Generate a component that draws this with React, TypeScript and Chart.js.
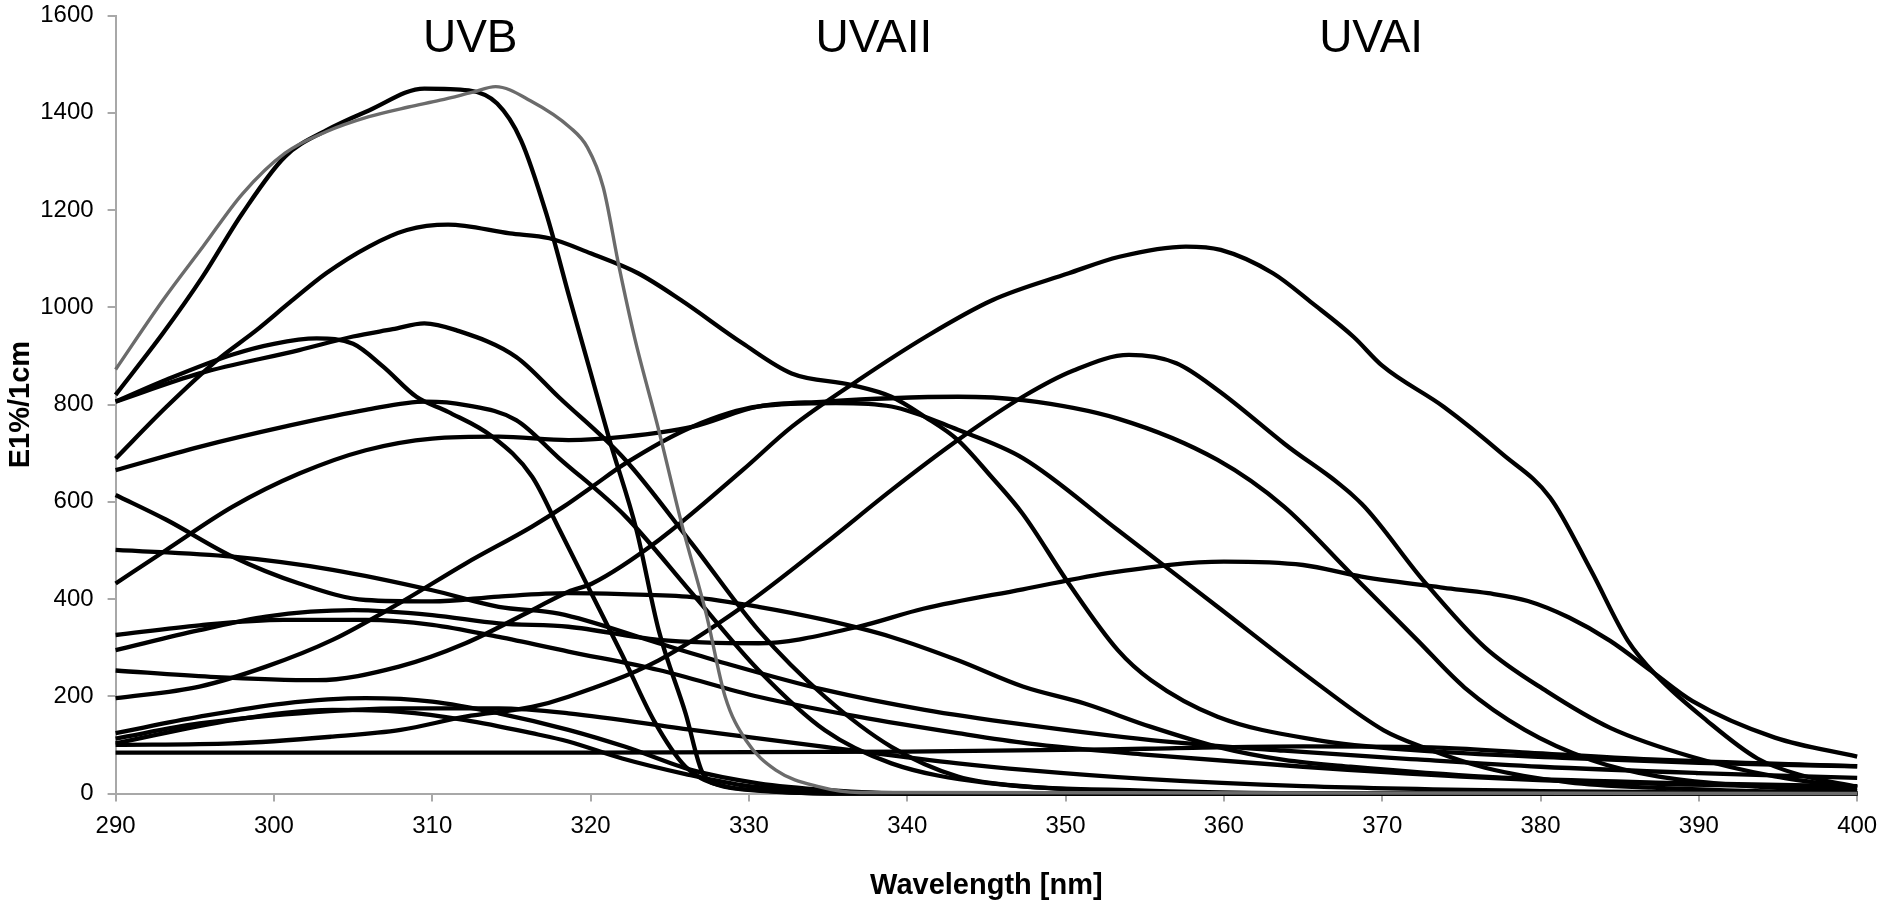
import React, { useEffect, useRef } from 'react';
import { Chart, registerables } from 'chart.js';

Chart.register(...registerables);

// Axis ticks
const xTickValues = [290, 300, 310, 320, 330, 340, 350, 360, 370, 380, 390, 400];
const yTickValues = [0, 200, 400, 600, 800, 1000, 1200, 1400, 1600];

// Region labels
const regionNames = ['UVB', 'UVAII', 'UVAI'];
const regionCenters = [312.4, 337.9, 369.3];
const regionLabelValue = 1526;

// Gray curve
const wlG = [290, 293, 295.5, 298, 300.7, 303.3, 306, 308.5, 310.5, 312.5, 314, 316.2, 318.7, 319.8, 320.8, 321.8, 322.8, 324.3, 325.8, 327.3, 328.5, 329.8, 331.7, 334.4, 337, 400];
const valG = [872, 1015, 1124, 1233, 1317, 1361, 1392, 1412, 1426, 1442, 1454, 1425, 1370, 1329, 1247, 1083, 935, 748, 549, 370, 199, 110, 48, 14, 2, 0];

// Black curves
const wlA = [290, 293, 295.5, 298, 300.7, 303.3, 306, 309.5, 312.3, 314.1, 315.6, 317.2, 318.7, 320, 321.2, 322.9, 324.3, 326, 327.1, 328.5, 330.6, 335, 400];
const valA = [820, 947, 1063, 1193, 1310, 1364, 1405, 1450, 1446, 1419, 1344, 1193, 1016, 866, 727, 542, 336, 165, 41, 15, 7, 0, 0];

const wlB = [290, 293.2, 297.4, 300, 302.7, 305, 306.9, 309, 311, 313.8, 316.3, 318, 320, 322, 324, 326, 328, 331, 336, 400];
const valB = [806, 851, 903, 925, 936, 925, 878, 816, 785, 734, 652, 545, 415, 285, 150, 55, 18, 5, 0, 0];

const wlC = [290, 295.3, 301.6, 305, 307.5, 309.5, 311.5, 315.3, 318, 322.2, 326.4, 330.6, 334.8, 339, 343.2, 347.6, 355, 365, 400];
const valC = [806, 864, 912, 940, 955, 967, 953, 898, 815, 686, 514, 336, 199, 96, 35, 14, 4, 0, 0];

const wlD = [290, 293.2, 296.4, 298.9, 301, 303.3, 306, 308.4, 311, 314.9, 317.4, 320, 323, 325.7, 329.6, 332.7, 336.5, 339, 341.1, 343.2, 345.3, 347.3, 350.2, 353.3, 355.4, 359.6, 365.9, 372, 381.8, 390, 400];
const valD = [689, 795, 891, 953, 1010, 1070, 1125, 1159, 1170, 1152, 1142, 1111, 1070, 1015, 926, 864, 840, 816, 775, 727, 652, 575, 432, 295, 233, 158, 110, 89, 73, 63, 56];

const wlE = [290, 295.3, 300.6, 305.8, 309.6, 312.1, 315.3, 318, 322.2, 326.4, 330.6, 334.8, 339, 345, 355, 370, 400];
const valE = [665, 713, 754, 789, 806, 799, 768, 690, 570, 412, 254, 130, 62, 22, 6, 0, 0];

const wlF = [290, 293.2, 297.4, 301.6, 305.8, 310, 314.2, 318.6, 322, 326.4, 330.6, 334.8, 339, 343.2, 347.3, 351.2, 355.4, 359.6, 363.8, 368, 376.7, 388, 400];
const valF = [614, 563, 487, 432, 398, 395, 405, 412, 410, 404, 384, 357, 322, 274, 220, 185, 137, 96, 69, 55, 34, 22, 15];

const wlH = [290, 297.4, 303.7, 310, 314.2, 318, 324.3, 328.5, 334.8, 341.1, 347.3, 355.4, 363.8, 372.2, 380, 390, 400];
const valH = [501, 487, 460, 418, 384, 370, 309, 268, 213, 172, 142, 110, 88, 70, 55, 42, 32];

const wlI = [290, 293.2, 297.4, 301.6, 305.8, 310, 314.2, 318.6, 322.2, 326.4, 330.6, 334.8, 339, 343.2, 347.3, 353.3, 359.6, 363.8, 368, 372.2, 375.2, 379, 383.2, 387.4, 393.7, 400];
const valI = [432, 501, 590, 658, 706, 730, 734, 727, 734, 754, 796, 806, 813, 816, 809, 771, 686, 590, 453, 316, 218, 131, 69, 35, 14, 5];

const wlJ = [290, 295.3, 300.6, 305.8, 310, 314.2, 318.6, 324.3, 330.6, 336.9, 343.2, 347.6, 355, 365, 375, 385, 400];
const valJ = [326, 346, 357, 357, 347, 322, 292, 254, 199, 158, 124, 103, 80, 55, 35, 22, 12];

const wlK = [290, 295.3, 299.5, 305, 310, 314.2, 318.6, 324.3, 330.6, 336.9, 341, 347.3, 353, 360, 365, 368.7, 373.9, 376.7, 379.2, 381.8, 384.4, 387, 389.6, 394.8, 400];
const valK = [295, 336, 364, 377, 367, 350, 343, 316, 309, 343, 380, 420, 455, 477, 470, 446, 423, 412, 396, 362, 314, 252, 190, 115, 76];

const wlL = [290, 295.3, 299.5, 303.7, 307.9, 312.1, 316.3, 318.3, 320.1, 322.2, 326.4, 330.6, 335.5, 339, 343.2, 347.3, 353.3, 359.6, 365.9, 370.1, 372.6, 376.5, 381.8, 387, 400];
const valL = [196, 220, 261, 316, 391, 473, 549, 590, 631, 679, 754, 796, 803, 796, 748, 690, 542, 384, 226, 130, 95, 53, 23, 12, 0];

const wlM = [290, 296, 302.7, 307.9, 312.1, 316.3, 318.6, 320.1, 324.3, 329.6, 332.7, 336.9, 341.2, 345.4, 350.2, 353.4, 357.6, 359.8, 363.1, 365.6, 368.2, 370, 373.9, 377.6, 380.6, 383.2, 385.5, 387.4, 390.5, 393.7, 396.3, 400];
const valM = [253, 240, 233, 261, 309, 377, 415, 432, 521, 665, 754, 850, 940, 1015, 1070, 1104, 1125, 1118, 1070, 1008, 939, 880, 795, 698, 609, 458, 315, 240, 150, 72, 39, 14];

const wlN = [290, 295.3, 300.6, 305.8, 310, 314.2, 318.6, 322.2, 326.4, 330.6, 335, 340, 400];
const valN = [124, 158, 185, 196, 189, 165, 131, 96, 48, 21, 7, 0, 0];

const wlO = [290, 295.3, 301.6, 308, 314.2, 318.6, 326.4, 334.8, 343.2, 347.6, 355, 365, 380, 400];
const valO = [113, 144, 165, 175, 175, 165, 131, 96, 62, 48, 30, 15, 5, 0];

const wlR = [290, 297.4, 303.7, 308, 312.1, 316.3, 318.6, 322, 326, 330, 335, 345, 400];
const valR = [103, 151, 172, 168, 151, 124, 107, 72, 40, 15, 4, 0, 0];

const wlP = [290, 297.4, 303.7, 308, 312.1, 316.3, 318.6, 324.3, 329.6, 334.8, 339, 343.2, 347.3, 350.5, 354, 357, 359.6, 363.8, 368.7, 372.6, 376.5, 380.4, 384.4, 389.6, 394.8, 400];
const valP = [100, 103, 117, 131, 158, 178, 199, 274, 384, 514, 624, 727, 816, 870, 902, 885, 830, 720, 596, 438, 300, 210, 135, 75, 35, 12];

const wlQ = [290, 320, 340, 355, 365, 373.9, 379.2, 387, 400];
const valQ = [84, 84, 86, 92, 97, 94, 84, 70, 56];

const GRAY = '#6b6b6b';
const BLACK = '#000000';

const seriesList = [
  { wl: wlG, val: valG, color: GRAY, width: 3.4 },
  { wl: wlA, val: valA, color: BLACK, width: 4.3 },
  { wl: wlB, val: valB, color: BLACK, width: 4.3 },
  { wl: wlC, val: valC, color: BLACK, width: 4.3 },
  { wl: wlD, val: valD, color: BLACK, width: 4.3 },
  { wl: wlE, val: valE, color: BLACK, width: 4.3 },
  { wl: wlF, val: valF, color: BLACK, width: 4.3 },
  { wl: wlH, val: valH, color: BLACK, width: 4.3 },
  { wl: wlI, val: valI, color: BLACK, width: 4.3 },
  { wl: wlJ, val: valJ, color: BLACK, width: 4.3 },
  { wl: wlK, val: valK, color: BLACK, width: 4.3 },
  { wl: wlL, val: valL, color: BLACK, width: 4.3 },
  { wl: wlM, val: valM, color: BLACK, width: 4.3 },
  { wl: wlN, val: valN, color: BLACK, width: 4.3 },
  { wl: wlO, val: valO, color: BLACK, width: 4.3 },
  { wl: wlR, val: valR, color: BLACK, width: 4.3 },
  { wl: wlP, val: valP, color: BLACK, width: 4.3 },
  { wl: wlQ, val: valQ, color: BLACK, width: 4.3 },
];

const FONT = '"Liberation Sans", Arial, Helvetica, sans-serif';
const AXIS_GRAY = '#a8a8a8';

const regionLabelPlugin = {
  id: 'regionLabels',
  afterDatasetsDraw(chart: any) {
    const { ctx, scales } = chart;
    const xs = scales.x;
    const ys = scales.y;
    ctx.save();
    ctx.font = `46px ${FONT}`;
    ctx.fillStyle = '#000';
    ctx.textAlign = 'center';
    ctx.textBaseline = 'alphabetic';
    regionNames.forEach((name, i) => {
      ctx.fillText(name, xs.getPixelForValue(regionCenters[i]), ys.getPixelForValue(regionLabelValue));
    });
    ctx.restore();
  },
};

export default function App() {
  const ref = useRef<HTMLCanvasElement>(null);

  useEffect(() => {
    if (!ref.current) return;
    Chart.defaults.font.family = FONT;
    const chart = new Chart(ref.current, {
      type: 'line',
      data: {
        datasets: seriesList.map((s) => ({
          data: s.wl.map((w, i) => ({ x: w, y: s.val[i] })),
          borderColor: s.color,
          borderWidth: s.width,
          pointRadius: 0,
          pointHoverRadius: 0,
          fill: false,
          cubicInterpolationMode: 'monotone' as const,
          clip: false as any,
        })),
      },
      options: {
        animation: false,
        responsive: false,
        devicePixelRatio: 1,
        layout: { padding: { top: 15.6, right: 28, left: 0, bottom: 0 } },
        plugins: {
          legend: { display: false },
          tooltip: { enabled: false },
        },
        events: [],
        scales: {
          x: {
            type: 'linear',
            min: 290,
            max: 400,
            afterBuildTicks: (scale: any) => {
              scale.ticks = xTickValues.map((v) => ({ value: v }));
            },
            afterFit: (scale: any) => {
              scale.height = 114.5;
            },
            grid: {
              display: true,
              drawOnChartArea: false,
              drawTicks: true,
              tickLength: 8,
              color: AXIS_GRAY,
              lineWidth: 2,
            },
            border: { display: true, color: AXIS_GRAY, width: 2 },
            ticks: {
              color: '#000',
              font: { size: 24, family: FONT },
              padding: 10.8,
              maxRotation: 0,
              autoSkip: false,
              callback: (v: any) => String(v),
            },
            title: {
              display: true,
              text: 'Wavelength [nm]',
              color: '#000',
              font: { size: 29, weight: 'bold', family: FONT },
              padding: { top: 0, bottom: 5 },
            },
          },
          y: {
            type: 'linear',
            min: 0,
            max: 1600,
            afterBuildTicks: (scale: any) => {
              scale.ticks = yTickValues.map((v) => ({ value: v }));
            },
            afterFit: (scale: any) => {
              scale.width = 115.6;
              scale.paddingTop = 0;
              scale.paddingBottom = 0;
            },
            grid: {
              display: true,
              drawOnChartArea: false,
              drawTicks: true,
              tickLength: 8,
              color: AXIS_GRAY,
              lineWidth: 2,
            },
            border: { display: true, color: AXIS_GRAY, width: 2 },
            ticks: {
              color: '#000',
              font: { size: 24, family: FONT },
              padding: 14,
              autoSkip: false,
              callback: (v: any) => String(v),
            },
            title: {
              display: true,
              text: 'E1%/1cm',
              color: '#000',
              font: { size: 29, weight: 'bold', family: FONT },
              padding: { top: 4, bottom: 0 },
            },
          },
        },
      },
      plugins: [regionLabelPlugin],
    });
    return () => chart.destroy();
  }, []);

  return (
    <div style={{ position: 'fixed', left: 0, top: 0, width: 1888, height: 908, background: '#fff' }}>
      <canvas ref={ref} width={1888} height={908} style={{ display: 'block', width: 1888, height: 908 }} />
    </div>
  );
}
